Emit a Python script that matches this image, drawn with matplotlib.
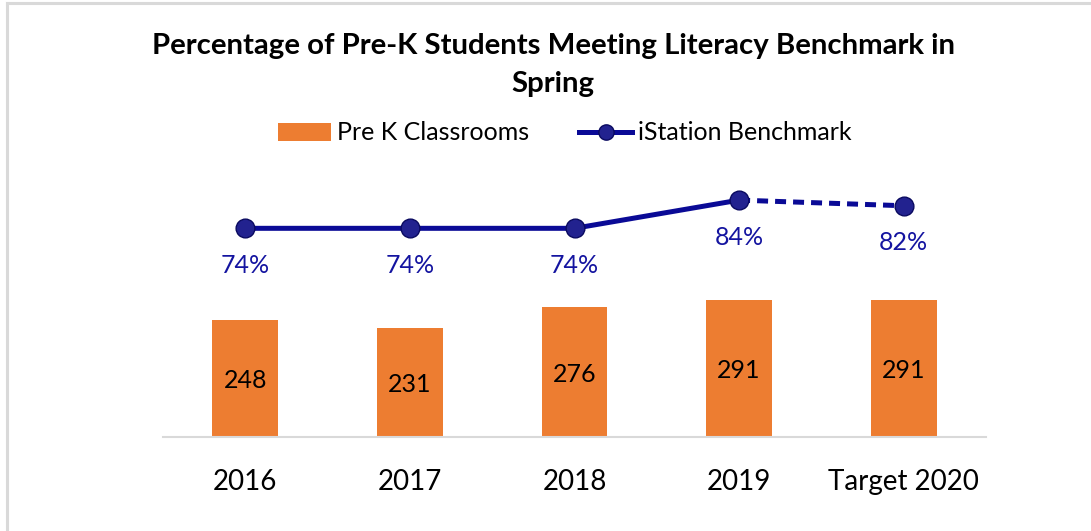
import matplotlib
matplotlib.use("Agg")
import matplotlib.pyplot as plt
from matplotlib.lines import Line2D
from matplotlib.patches import Patch

categories = ["2016", "2017", "2018", "2019", "Target 2020"]
classrooms = [248, 231, 276, 291, 291]
benchmark = [74, 74, 74, 84, 82]
benchmark_labels = ["74%", "74%", "74%", "84%", "82%"]

plt.rcParams['font.family'] = ['Lato', 'DejaVu Sans']

W, H = 1091, 531
fig = plt.figure(figsize=(W / 100, H / 100), dpi=100)

# light grey outer frame: only top and left edges are inside the image
fig.add_artist(Line2D([7 / W, 1.0], [1 - 3 / H, 1 - 3 / H], transform=fig.transFigure,
                      color='#D9D9D9', linewidth=2.2))
fig.add_artist(Line2D([7 / W, 7 / W], [0.0, 1 - 3 / H], transform=fig.transFigure,
                      color='#D9D9D9', linewidth=2.2))

ax_l, ax_b = 163 / W, 94 / H
ax_w, ax_h = 823 / W, 295 / H
ax = fig.add_axes([ax_l, ax_b, ax_w, ax_h])
ax2 = ax.twinx()

orange = '#ED7D31'
navy = '#0A0A96'

x = list(range(len(categories)))
bars = ax.bar(x, classrooms, width=0.4, color=orange, zorder=2)
ax.set_xlim(-0.5, len(categories) - 0.5)
ax.set_ylim(0, 295 / 0.4708)
for xi, v in zip(x, classrooms):
    ax.annotate(str(v), (xi, v / 2), xytext=(0, -2), textcoords='offset pixels',
                ha='center', va='center', fontsize=18, color='black')

ax2.set_ylim(0, 295 / 2.82)
ax2.plot(x[:4], benchmark[:4], color=navy, linewidth=3.6, zorder=3)
ax2.plot(x[3:], benchmark[3:], color=navy, linewidth=3.6, linestyle=(0, (2.2, 1.4)), zorder=3)
ax2.plot(x, benchmark, linestyle='none', marker='o', markersize=13.5,
         markerfacecolor='#22228F', markeredgecolor='#0A0A60', markeredgewidth=1, zorder=4)
for xi, v, lab in zip(x, benchmark, benchmark_labels):
    ax2.annotate(lab, (xi, v), xytext=(0, -37), textcoords='offset pixels',
                 ha='center', va='center', fontsize=18, color='#1414A0')

for a in (ax, ax2):
    for s in ('top', 'right', 'left'):
        a.spines[s].set_visible(False)
    a.set_yticks([])
ax.spines['bottom'].set_color('#D9D9D9')
ax.spines['bottom'].set_linewidth(1.5)
ax2.spines['bottom'].set_visible(False)
ax.set_xticks(x)
ax.set_xticklabels(categories, fontsize=20)
ax.tick_params(axis='x', length=0, pad=23)

fig.text(553 / W, 1 - 46 / H, "Percentage of Pre-K Students Meeting Literacy Benchmark in",
         ha='center', va='center', fontsize=21.2, fontweight='bold')
fig.text(553 / W, 1 - 84 / H, "Spring", ha='center', va='center', fontsize=21.2, fontweight='bold')

handles = [Patch(facecolor=orange, edgecolor='none'),
           Line2D([0], [0], color=navy, linewidth=3.6, marker='o', markersize=11,
                  markerfacecolor='#22228F', markeredgecolor='#0A0A60')]
fig.legend(handles, ["Pre K Classrooms", "iStation Benchmark"], loc='center',
           bbox_to_anchor=(565 / W, 1 - 133 / H), ncol=2, frameon=False, fontsize=18,
           handlelength=2.1, handleheight=0.75, columnspacing=2.0, handletextpad=0.25)

fig.savefig("out.png", dpi=100)
